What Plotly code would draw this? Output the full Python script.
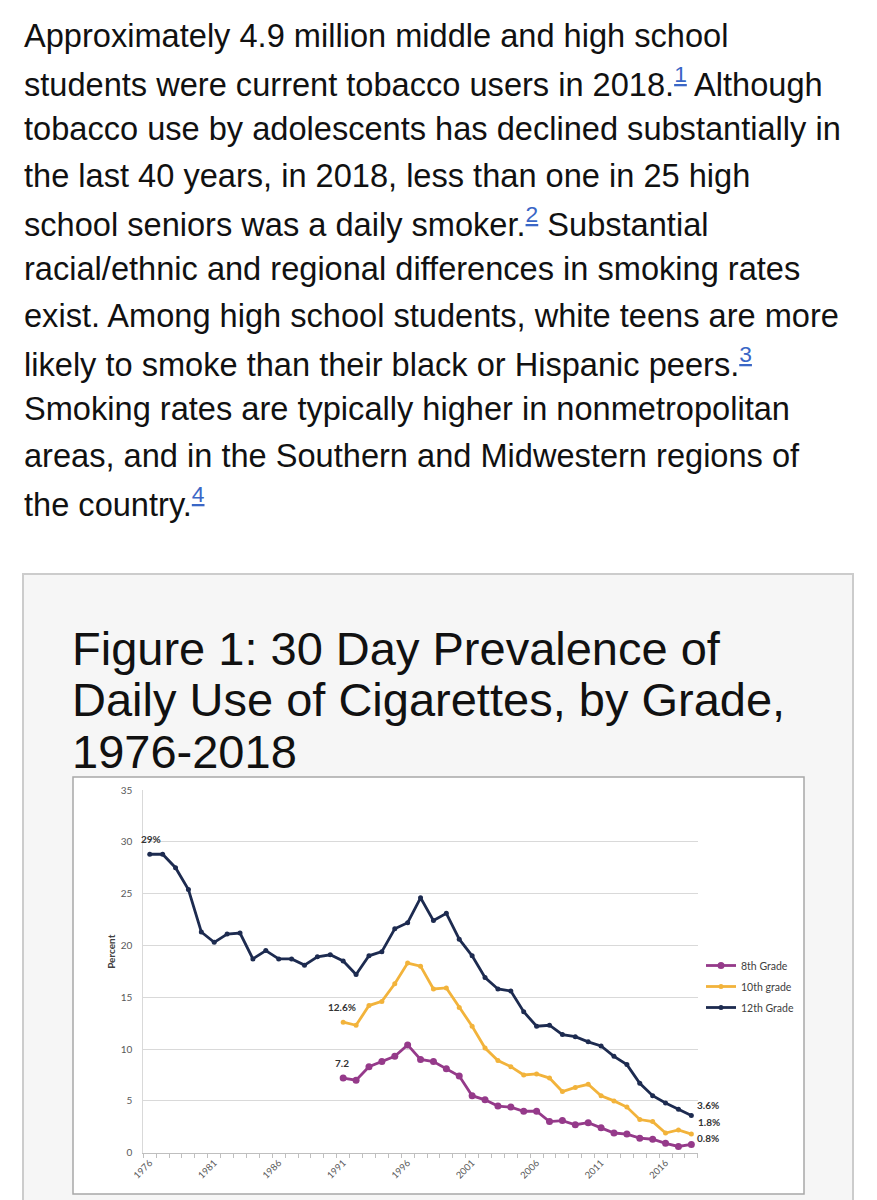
import plotly.graph_objects as go

# ---------------- data ----------------
years_12 = list(range(1976, 2019))
grade12 = [28.8, 28.8, 27.5, 25.4, 21.3, 20.3, 21.1, 21.2, 18.7, 19.5, 18.7, 18.7, 18.1, 18.9,
           19.1, 18.5, 17.2, 19.0, 19.4, 21.6, 22.2, 24.6, 22.4, 23.1, 20.6, 19.0, 16.9, 15.8,
           15.6, 13.6, 12.2, 12.3, 11.4, 11.2, 10.7, 10.3, 9.3, 8.5, 6.7, 5.5, 4.8, 4.2, 3.6]
years_8_10 = list(range(1991, 2019))
grade10 = [12.6, 12.3, 14.2, 14.6, 16.3, 18.3, 18.0, 15.8, 15.9, 14.0, 12.2, 10.1, 8.9, 8.3,
           7.5, 7.6, 7.2, 5.9, 6.3, 6.6, 5.5, 5.0, 4.4, 3.2, 3.0, 1.9, 2.2, 1.8]
grade8 = [7.2, 7.0, 8.3, 8.8, 9.3, 10.4, 9.0, 8.8, 8.1, 7.4, 5.5, 5.1, 4.5, 4.4,
          4.0, 4.0, 3.0, 3.1, 2.7, 2.9, 2.4, 1.9, 1.8, 1.4, 1.3, 0.9, 0.6, 0.8]
series_names = ["8th Grade", "10th grade", "12th Grade"]
xtick_years = [1976, 1981, 1986, 1991, 1996, 2001, 2006, 2011, 2016]
ytick_vals = [0, 5, 10, 15, 20, 25, 30, 35]

paragraph = [
    "Approximately 4.9 million middle and high school",
    "students were current tobacco users in 2018.{1} Although",
    "tobacco use by adolescents has declined substantially in",
    "the last 40 years, in 2018, less than one in 25 high",
    "school seniors was a daily smoker.{2} Substantial",
    "racial/ethnic and regional differences in smoking rates",
    "exist. Among high school students, white teens are more",
    "likely to smoke than their black or Hispanic peers.{3}",
    "Smoking rates are typically higher in nonmetropolitan",
    "areas, and in the Southern and Midwestern regions of",
    "the country.{4}",
]
title_lines = ["Figure 1: 30 Day Prevalence of",
               "Daily Use of Cigarettes, by Grade,",
               "1976-2018"]

# ---------------- layout helpers ----------------
W, H = 877, 1200
def px(x):
    return x / W
def py(y):
    return 1 - y / H

SANS = "Liberation Sans, Arial, Helvetica, sans-serif"
CHART_FONT = "Lato, Carlito, Calibri, sans-serif"
LINK = "#3a66c6"

colors = {"8th Grade": "#953a8a", "10th grade": "#f2b33b", "12th Grade": "#1d2b50"}

fig = go.Figure()
fig.add_trace(go.Scatter(x=years_8_10, y=grade8, name=series_names[0], mode="lines+markers",
                         line=dict(color=colors["8th Grade"], width=2.8),
                         marker=dict(size=7, color=colors["8th Grade"])))
fig.add_trace(go.Scatter(x=years_8_10, y=grade10, name=series_names[1], mode="lines+markers",
                         line=dict(color=colors["10th grade"], width=2.8),
                         marker=dict(size=5, color=colors["10th grade"])))
fig.add_trace(go.Scatter(x=years_12, y=grade12, name=series_names[2], mode="lines+markers",
                         line=dict(color=colors["12th Grade"], width=2.8),
                         marker=dict(size=5, color=colors["12th Grade"])))

# plot area in pixels
PL, PR, PT, PB = 143.3, 697.8, 790.0, 1152.7

annotations = []
# paragraph text
for i, line in enumerate(paragraph):
    txt = line
    for k in "1234":
        txt = txt.replace("{%s}" % k,
                          '<span style="color:%s"><sup><u>%s</u></sup></span>' % (LINK, k))
    base = 47 + 46.6 * i
    annotations.append(dict(text=txt, x=px(22), y=py(base - 11.3), xref="paper", yref="paper",
                            xanchor="left", yanchor="middle", showarrow=False,
                            font=dict(family=SANS, size=32.6, color="#111111")))
# figure title
for i, line in enumerate(title_lines):
    base = 664 + 51.5 * i
    annotations.append(dict(text=line, x=px(70), y=py(base - 16), xref="paper", yref="paper",
                            xanchor="left", yanchor="middle", showarrow=False,
                            font=dict(family=SANS, size=47, color="#111111")))
# y axis title
annotations.append(dict(text="<b>Percent</b>", x=px(103), y=py((PT + PB) / 2), xref="paper",
                        yref="paper", textangle=-90, showarrow=False,
                        font=dict(family=CHART_FONT, size=10, color="#404040")))
# data labels
lab_font = dict(family=CHART_FONT, size=10, color="#333333")
annotations += [
    dict(text="<b>29%</b>", x=years_12[0], y=grade12[0], xref="x", yref="y", showarrow=False,
         yshift=15, xshift=1, font=lab_font),
    dict(text="<b>12.6%</b>", x=years_8_10[0], y=grade10[0], xref="x", yref="y", showarrow=False,
         yshift=15, xshift=-1, font=lab_font),
    dict(text="<b>7.2</b>", x=years_8_10[0], y=grade8[0], xref="x", yref="y", showarrow=False,
         yshift=15, xshift=-1, font=lab_font),
    dict(text="<b>3.6%</b>", x=years_12[-1], y=grade12[-1], xref="x", yref="y", showarrow=False,
         xanchor="left", yshift=10, xshift=4, font=lab_font),
    dict(text="<b>1.8%</b>", x=years_8_10[-1], y=grade10[-1], xref="x", yref="y", showarrow=False,
         xanchor="left", yshift=12, xshift=5, font=lab_font),
    dict(text="<b>0.8%</b>", x=years_8_10[-1], y=grade8[-1], xref="x", yref="y", showarrow=False,
         xanchor="left", yshift=6, xshift=4, font=lab_font),
]

shapes = [
    # grey figure frame
    dict(type="rect", xref="paper", yref="paper", x0=px(23), x1=px(853), y0=py(1215), y1=py(574),
         fillcolor="#f6f6f6", line=dict(color="#cccccc", width=2), layer="below"),
    # white chart frame
    dict(type="rect", xref="paper", yref="paper", x0=px(73), x1=px(804), y0=py(1194), y1=py(777),
         fillcolor="#ffffff", line=dict(color="#a8a8a8", width=1.5), layer="below"),
]

fig.update_layout(
    width=W, height=H,
    margin=dict(l=0, r=0, t=0, b=0, pad=0, autoexpand=False),
    paper_bgcolor="#ffffff",
    plot_bgcolor="rgba(0,0,0,0)",
    showlegend=True,
    legend=dict(x=px(701), y=py(951), xanchor="left", yanchor="top",
                bgcolor="rgba(0,0,0,0)", itemwidth=30,
                font=dict(family=CHART_FONT, size=10.5, color="#404040"),
                tracegroupgap=2, traceorder="grouped"),
    annotations=annotations,
    shapes=shapes,
    xaxis=dict(domain=[px(PL), px(PR)], range=[1975.5, 2018.5], automargin=False,
               tickmode="array", tickvals=xtick_years, ticktext=[str(y) for y in xtick_years],
               tickangle=-45, ticks="", showgrid=False, zeroline=False,
               showline=True, linecolor="#bfbfbf", linewidth=1,
               tickfont=dict(family=CHART_FONT, size=9.5, color="#595959"),
               minor=dict(tickmode="linear", tick0=1975.5, dtick=1, ticks="outside",
                          ticklen=4, tickcolor="#bfbfbf", showgrid=False)),
    yaxis=dict(domain=[py(PB), py(PT)], range=[0, 35], tickmode="array", tickvals=ytick_vals,
               automargin=False,
               showgrid=True, gridcolor="#d9d9d9", gridwidth=1, zeroline=False,
               showline=True, linecolor="#d9d9d9", linewidth=1, ticks="",
               ticklabelstandoff=8,
               tickfont=dict(family=CHART_FONT, size=10, color="#595959")),
)
for i, tr in enumerate(fig.data):
    tr.legendgroup = "g%d" % i

fig.write_html("out.html")
